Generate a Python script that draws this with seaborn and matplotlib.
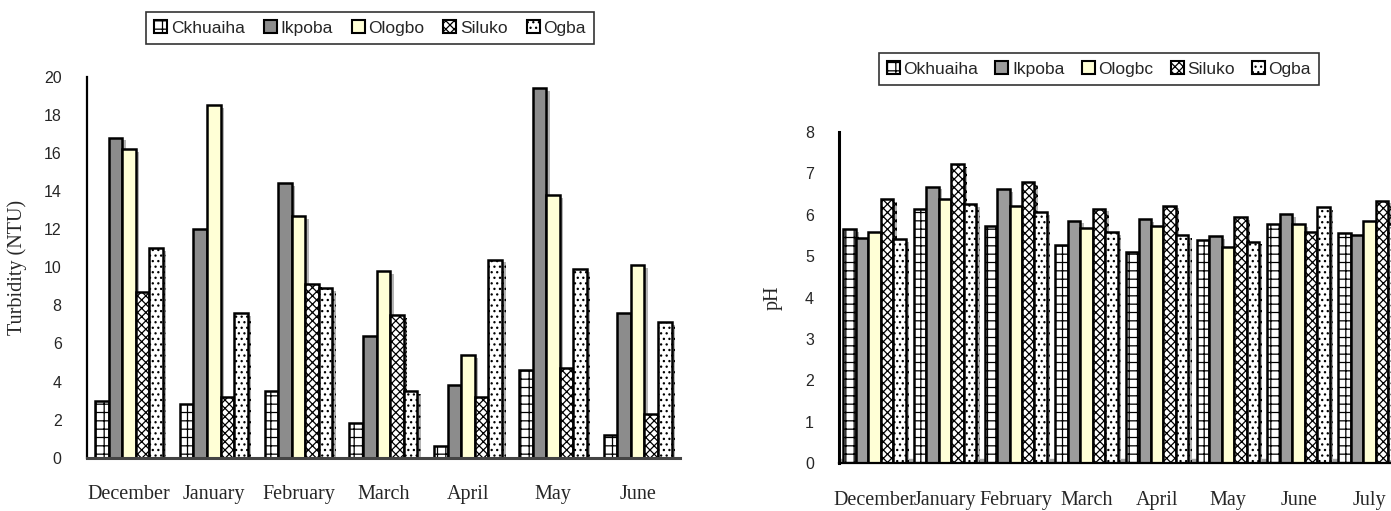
import numpy as np
import pandas as pd
import matplotlib
matplotlib.use("Agg")
import matplotlib.pyplot as plt
import matplotlib.patheffects as pe
from matplotlib.patches import Patch
import seaborn as sns

# Sampling stations (legend order)
sites = ["Okhuaiha", "Ikpoba", "Ologbo", "Siluko", "Ogba"]

# Turbidity (NTU), December - June
turb_months = ["December", "January", "February", "March", "April", "May", "June"]
turb_okhuaiha = [3.0, 2.8, 3.5, 1.8, 0.6, 4.6, 1.2]
turb_ikpoba = [16.8, 12.0, 14.4, 6.4, 3.8, 19.4, 7.6]
turb_ologbo = [16.2, 18.5, 12.7, 9.8, 5.4, 13.8, 10.1]
turb_siluko = [8.7, 3.2, 9.1, 7.5, 3.2, 4.7, 2.3]
turb_ogba = [11.0, 7.6, 8.9, 3.5, 10.4, 9.9, 7.1]

# pH, December - July
ph_months = ["December", "January", "February", "March", "April", "May", "June", "July"]
ph_okhuaiha = [5.66, 6.14, 5.72, 5.27, 5.11, 5.40, 5.78, 5.56]
ph_ikpoba = [5.44, 6.68, 6.62, 5.86, 5.90, 5.48, 6.02, 5.50]
ph_ologbo = [5.58, 6.39, 6.20, 5.67, 5.72, 5.21, 5.78, 5.85]
ph_siluko = [6.38, 7.23, 6.79, 6.15, 6.22, 5.94, 5.58, 6.34]
ph_ogba = [5.42, 6.26, 6.07, 5.58, 5.51, 5.35, 6.18, 5.78]

turb_legend = ["Ckhuaiha", "Ikpoba", "Ologbo", "Siluko", "Ogba"]
ph_legend = ["Okhuaiha", "Ikpoba", "Ologbc", "Siluko", "Ogba"]


def long_frame(months, series):
    rows = []
    for site, vals in zip(sites, series):
        for m, v in zip(months, vals):
            rows.append({"month": m, "site": site, "value": v})
    return pd.DataFrame(rows)


turb_df = long_frame(turb_months, [turb_okhuaiha, turb_ikpoba, turb_ologbo, turb_siluko, turb_ogba])
ph_df = long_frame(ph_months, [ph_okhuaiha, ph_ikpoba, ph_ologbo, ph_siluko, ph_ogba])

sns.set_style("white")
plt.rcParams["hatch.linewidth"] = 0.9

SERIF = ["Liberation Serif", "DejaVu Serif"]
SANS = ["Liberation Sans", "DejaVu Sans"]

# fill colour, hatch, hatch colour per station
styles = {
    "Okhuaiha": ("white", "++", "#333333"),
    "Ikpoba": ("#8c8c8c", "", "black"),
    "Ologbo": ("#ffffd6", "", "black"),
    "Siluko": ("white", "xxxx", "#222222"),
    "Ogba": ("white", "...", "#9a9a9a"),
}

shadow = [pe.SimplePatchShadow(offset=(2.5, -2), shadow_rgbFace="#b4b4b4", alpha=1.0), pe.Normal()]


def style_bars(ax, gray):
    for site, cont in zip(sites, ax.containers):
        face, hatch, hcol = styles[site]
        if site == "Ikpoba":
            face = gray
        for bar in cont:
            bar.set_facecolor(face)
            bar.set_edgecolor("black")
            bar.set_linewidth(1.8)
            bar.set_hatch(hatch)
            try:
                bar.set_hatchcolor(hcol)
            except AttributeError:
                pass
            bar.set_path_effects(shadow)


def legend_handles(gray):
    hs = []
    for site in sites:
        face, hatch, hcol = styles[site]
        if site == "Ikpoba":
            face = gray
        p = Patch(facecolor=face, edgecolor="black", hatch=hatch, linewidth=1.5)
        try:
            p.set_hatchcolor(hcol)
        except AttributeError:
            pass
        hs.append(p)
    return hs


def month_axis(ax, months):
    ax.set_xlim(-0.5, len(months) - 0.5)
    ax.set_xlabel("")
    ax.set_xticks(np.arange(-0.5, len(months), 1.0), minor=False)
    ax.set_xticklabels([])
    ax.set_xticks(np.arange(len(months)), minor=True)
    ax.set_xticklabels(months, minor=True, fontsize=14.5, family=SERIF)
    ax.tick_params(axis="x", which="major", direction="out", length=6, width=1.2, color="black")
    ax.tick_params(axis="x", which="minor", length=0, pad=20)
    ax.tick_params(axis="y", direction="out", length=6, width=1.2, color="black", labelsize=11.5, pad=12)
    for lab in ax.get_yticklabels():
        lab.set_family(SANS)
    for s in ["top", "right"]:
        ax.spines[s].set_visible(False)


fig = plt.figure(figsize=(13.91, 5.11), dpi=100)

# ---- Turbidity panel ----
ax1 = fig.add_axes([0.0623, 0.1043, 0.4266, 0.7456])
sns.barplot(data=turb_df, x="month", y="value", hue="site", hue_order=sites,
            order=turb_months, width=0.8, gap=0.0, legend=False, ax=ax1, errorbar=None)
style_bars(ax1, "#8c8c8c")
ax1.set_ylim(0, 20)
ax1.set_yticks(range(0, 21, 2))
ax1.set_ylabel("Turbidity (NTU)", fontsize=14.5, family=SERIF, labelpad=12)
month_axis(ax1, turb_months)
ax1.spines["left"].set_linewidth(1.6)
ax1.spines["left"].set_color("black")
ax1.spines["bottom"].set_linewidth(2.2)
ax1.spines["bottom"].set_color("#444444")

leg1 = fig.legend(handles=legend_handles("#8c8c8c"), labels=turb_legend, loc="center",
                  bbox_to_anchor=(0.266, 0.945), ncol=5, frameon=True, fancybox=False,
                  prop={"family": SANS, "size": 12.5}, handlelength=0.75, handleheight=0.75,
                  handletextpad=0.2, columnspacing=1.1, borderpad=0.5)
leg1.get_frame().set_edgecolor("black")
leg1.get_frame().set_linewidth(1.2)

# ---- pH panel ----
ax2 = fig.add_axes([0.6032, 0.0939, 0.4066, 0.6478])
ax2.axhspan(0, 0.09, color="#a8a8a8", zorder=0)
sns.barplot(data=ph_df, x="month", y="value", hue="site", hue_order=sites,
            order=ph_months, width=0.88, gap=0.0, legend=False, ax=ax2, errorbar=None)
style_bars(ax2, "#9c9c9c")
ax2.set_ylim(0, 8)
ax2.set_yticks(range(0, 9))
ax2.set_ylabel("pH", fontsize=14.5, family=SERIF, labelpad=16)
month_axis(ax2, ph_months)
ax2.spines["left"].set_linewidth(2.2)
ax2.spines["left"].set_color("black")
ax2.spines["bottom"].set_linewidth(1.6)
ax2.spines["bottom"].set_color("black")

leg2 = fig.legend(handles=legend_handles("#9c9c9c"), labels=ph_legend, loc="center",
                  bbox_to_anchor=(0.790, 0.865), ncol=5, frameon=True, fancybox=False,
                  prop={"family": SANS, "size": 12.5}, handlelength=0.75, handleheight=0.75,
                  handletextpad=0.2, columnspacing=1.0, borderpad=0.45)
leg2.get_frame().set_edgecolor("black")
leg2.get_frame().set_linewidth(1.2)

fig.savefig("out.png", dpi=100, facecolor="white")
